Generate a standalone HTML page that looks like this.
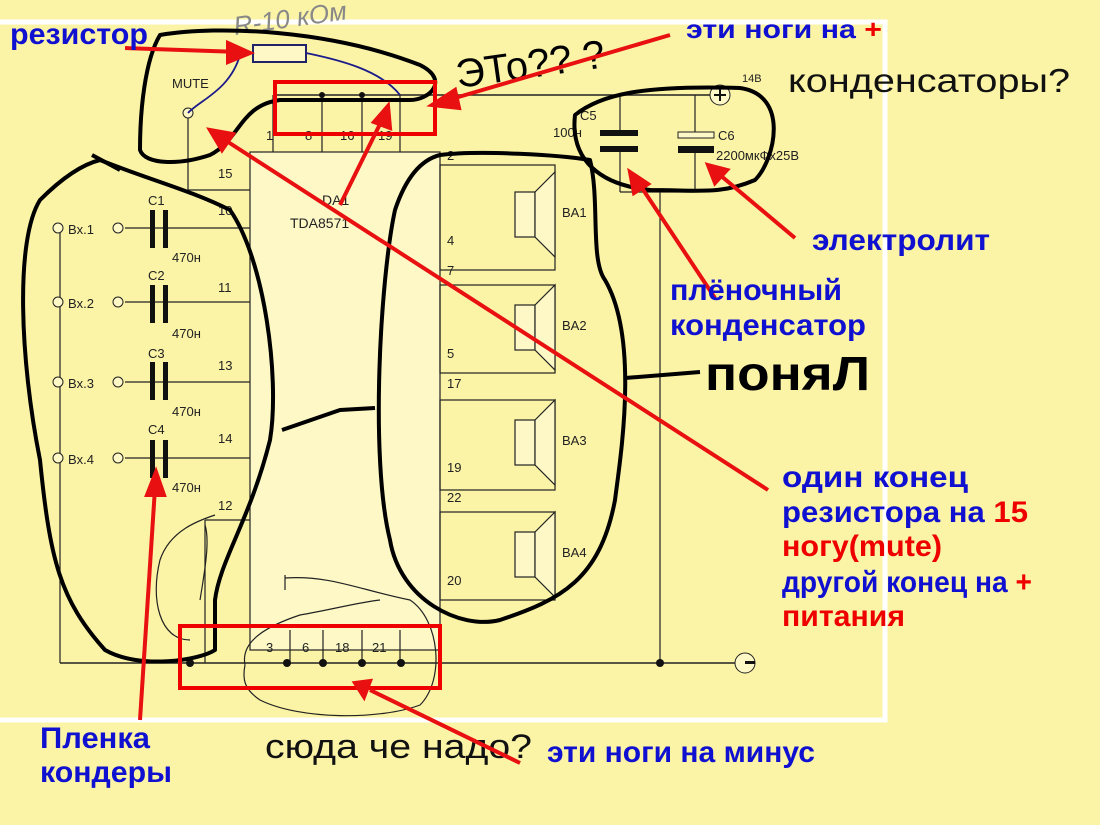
<!DOCTYPE html>
<html><head><meta charset="utf-8"><style>
html,body{margin:0;padding:0;background:#fbf3a6;}
svg{display:block}
</style></head><body>
<svg width="1100" height="825" viewBox="0 0 1100 825" xmlns="http://www.w3.org/2000/svg" font-family="Liberation Sans, sans-serif">
<rect width="1100" height="825" fill="#fbf3a6"/>
<polyline points="0,22 885,22 885,720 0,720" fill="none" stroke="#ffffff" stroke-width="5"/>
<rect x="250" y="152" width="190" height="498" fill="#fdf8c6" stroke="#222" stroke-width="1.2"/>
<text x="322" y="205" font-size="14" fill="#222">DA1</text>
<text x="290" y="228" font-size="14" fill="#222">TDA8571</text>
<g stroke="#222" stroke-width="1.2" fill="none">
<line x1="273" y1="95" x2="720" y2="95" stroke-width="1.5"/>
<line x1="273" y1="95" x2="273" y2="152"/><line x1="322" y1="95" x2="322" y2="152"/>
<line x1="362" y1="95" x2="362" y2="152"/><line x1="400" y1="95" x2="400" y2="152"/>
<line x1="188" y1="118" x2="188" y2="190"/><line x1="188" y1="190" x2="250" y2="190"/>
<line x1="60" y1="228" x2="60" y2="663"/>
<line x1="60" y1="663" x2="740" y2="663" stroke-width="1.5"/>
<line x1="125" y1="228" x2="250" y2="228"/><line x1="125" y1="302" x2="250" y2="302"/>
<line x1="125" y1="382" x2="250" y2="382"/><line x1="125" y1="458" x2="250" y2="458"/>
<line x1="205" y1="520" x2="250" y2="520"/><line x1="205" y1="520" x2="205" y2="663"/>
<line x1="290" y1="630" x2="290" y2="663"/><line x1="323" y1="630" x2="323" y2="663"/>
<line x1="362" y1="630" x2="362" y2="663"/><line x1="400" y1="630" x2="400" y2="663"/>
<line x1="440" y1="636" x2="440" y2="663"/>
<rect x="440" y="165" width="115" height="105"/>
<rect x="440" y="285" width="115" height="88"/>
<rect x="440" y="400" width="115" height="90"/>
<rect x="440" y="512" width="115" height="88"/>
<line x1="660" y1="190" x2="660" y2="663"/>
<line x1="620" y1="95" x2="620" y2="130"/><line x1="620" y1="152" x2="620" y2="192"/>
<line x1="695" y1="95" x2="695" y2="132"/><line x1="695" y1="152" x2="695" y2="192"/>
<line x1="620" y1="192" x2="695" y2="192"/>
</g>
<g fill="#fdf8c6" stroke="#222" stroke-width="1.2">
<rect x="515" y="192" width="20" height="45"/><polygon points="535,192 555,172 555,257 535,237"/>
<rect x="515" y="305" width="20" height="45"/><polygon points="535,305 555,285 555,370 535,350"/>
<rect x="515" y="420" width="20" height="45"/><polygon points="535,420 555,400 555,485 535,465"/>
<rect x="515" y="532" width="20" height="45"/><polygon points="535,532 555,512 555,597 535,577"/>
</g>
<g font-size="13" fill="#222">
<text x="562" y="217">BA1</text><text x="562" y="330">BA2</text><text x="562" y="445">BA3</text><text x="562" y="557">BA4</text>
<text x="447" y="160">2</text><text x="447" y="245">4</text><text x="447" y="275">7</text><text x="447" y="358">5</text>
<text x="447" y="388">17</text><text x="447" y="472">19</text><text x="447" y="502">22</text><text x="447" y="585">20</text>
<text x="266" y="140">1</text><text x="305" y="140">8</text><text x="340" y="140">16</text><text x="378" y="140">19</text>
<text x="218" y="178">15</text><text x="218" y="215">10</text><text x="218" y="292">11</text><text x="218" y="370">13</text>
<text x="218" y="443">14</text><text x="218" y="510">12</text>
<text x="266" y="652">3</text><text x="302" y="652">6</text><text x="335" y="652">18</text><text x="372" y="652">21</text>
<text x="172" y="88">MUTE</text>
<text x="68" y="234">Bx.1</text><text x="68" y="308">Bx.2</text><text x="68" y="388">Bx.3</text><text x="68" y="464">Bx.4</text>
<text x="148" y="205">C1</text><text x="148" y="280">C2</text><text x="148" y="358">C3</text><text x="148" y="434">C4</text>
<text x="172" y="262">470н</text><text x="172" y="338">470н</text><text x="172" y="416">470н</text><text x="172" y="492">470н</text>
<text x="580" y="120">C5</text><text x="553" y="137">100н</text><text x="718" y="140">C6</text><text x="716" y="160">2200мкФх25В</text>
<text x="742" y="82" font-size="11">14В</text>
</g>
<g fill="#fdf8c6" stroke="#222" stroke-width="1">
<circle cx="58" cy="228" r="5"/><circle cx="118" cy="228" r="5"/>
<circle cx="58" cy="302" r="5"/><circle cx="118" cy="302" r="5"/>
<circle cx="58" cy="382" r="5"/><circle cx="118" cy="382" r="5"/>
<circle cx="58" cy="458" r="5"/><circle cx="118" cy="458" r="5"/>
<circle cx="188" cy="113" r="5"/>
<circle cx="720" cy="95" r="10"/><circle cx="745" cy="663" r="10"/>
</g>
<g fill="#111">
<rect x="150" y="210" width="5" height="38"/><rect x="163" y="210" width="5" height="38"/>
<rect x="150" y="285" width="5" height="38"/><rect x="163" y="285" width="5" height="38"/>
<rect x="150" y="362" width="5" height="38"/><rect x="163" y="362" width="5" height="38"/>
<rect x="150" y="440" width="5" height="38"/><rect x="163" y="440" width="5" height="38"/>
<rect x="600" y="130" width="38" height="6"/><rect x="600" y="146" width="38" height="6"/>
<rect x="678" y="146" width="36" height="7"/>
<rect x="745" y="661" width="10" height="3"/><rect x="714" y="94" width="12" height="2"/><rect x="719" y="89" width="2" height="12"/>
<circle cx="190" cy="663" r="4"/><circle cx="287" cy="663" r="4"/><circle cx="323" cy="663" r="4"/>
<circle cx="362" cy="663" r="4"/><circle cx="401" cy="663" r="4"/><circle cx="660" cy="663" r="4"/>
<circle cx="322" cy="95" r="3"/><circle cx="362" cy="95" r="3"/>
</g>
<rect x="678" y="132" width="36" height="6" fill="#fdf8c6" stroke="#222"/>
<rect x="253" y="45" width="53" height="17" fill="#fdf8c6" stroke="#22226a" stroke-width="2"/>
<path d="M188,113 C200,100 230,90 240,55 L253,53 M306,53 C340,60 380,70 400,95" fill="none" stroke="#1b1b8a" stroke-width="1.8"/>
<text x="235" y="35" font-size="26" fill="#888" font-style="italic" transform="rotate(-8 235 35)">R-10 кОм</text>
<g fill="none" stroke="#000" stroke-width="4" stroke-linejoin="round">
<path d="M160,35 C220,25 330,30 420,65 C450,80 430,100 410,100 L280,100 C240,105 240,140 210,155 C180,165 145,165 140,150 C140,110 145,60 160,35 Z"/>
<path d="M100,160 C150,180 190,190 230,210 C265,260 280,380 270,440 C250,520 220,560 215,600 L215,650 C200,660 140,670 105,650 C60,600 50,560 40,460 C20,360 15,240 40,200 C60,180 80,165 100,160 Z"/>
<path d="M92,155 L120,170"/>
<path d="M282,430 L340,410 L375,408"/>
<path d="M440,155 C480,150 560,155 590,160 C600,200 590,260 605,280 C640,340 620,460 615,500 C600,580 560,600 500,620 C460,630 400,600 390,540 C370,460 380,280 395,210 C405,180 420,160 440,155 Z"/>
<path d="M575,115 C600,95 640,85 740,88 C790,95 775,160 755,180 C720,195 700,190 650,190 C600,185 570,160 575,115 Z"/>
<path d="M625,378 L700,372"/>
</g>
<g fill="none" stroke="#222" stroke-width="1.2">
<path d="M245,665 C240,640 270,625 300,615 C330,610 360,602 380,600 M285,575 L285,590 M285,578 C330,575 360,590 410,600 C440,620 445,680 420,705 C380,720 300,720 260,700 C245,690 242,680 245,665"/>
<path d="M215,515 C200,520 170,530 160,560 C150,600 160,640 190,640 M205,525 C210,540 205,570 200,600"/>
</g>
<text x="458" y="88" font-size="40" fill="#000" transform="rotate(-8 458 88)" textLength="150" lengthAdjust="spacingAndGlyphs">ЭТо?? ?</text>
<text x="705" y="390" font-size="48" fill="#000" font-weight="bold" textLength="165" lengthAdjust="spacingAndGlyphs">поняЛ</text>
<text x="788" y="92" font-size="33" fill="#111" textLength="282" lengthAdjust="spacingAndGlyphs">конденсаторы?</text>
<text x="265" y="758" font-size="34" fill="#111" textLength="267" lengthAdjust="spacingAndGlyphs">сюда че надо?</text>
<g fill="none" stroke="#e00" stroke-width="4">
<rect x="275" y="82" width="160" height="52"/>
<rect x="180" y="626" width="260" height="62"/>
</g>
<g stroke="#e81010" stroke-width="4" fill="#e81010">
<line x1="125" y1="48" x2="240" y2="52"/><polygon points="250,53 228,43 228,62"/>
<line x1="670" y1="35" x2="455" y2="98"/><polygon points="432,105 455,90 459,108"/>
<line x1="340" y1="205" x2="382" y2="120"/><polygon points="388,106 374,122 390,128"/>
<line x1="768" y1="490" x2="225" y2="140"/><polygon points="210,130 233,134 222,150"/>
<line x1="715" y1="298" x2="640" y2="185"/><polygon points="630,172 648,184 634,193"/>
<line x1="795" y1="238" x2="720" y2="175"/><polygon points="708,165 727,170 715,183"/>
<line x1="140" y1="720" x2="155" y2="488"/><polygon points="156,472 147,495 164,495"/>
<line x1="520" y1="763" x2="370" y2="690"/><polygon points="355,683 370,681 364,697"/>
</g>
<g font-weight="bold" font-size="30" fill="#1010d0">
<text x="10" y="44" textLength="138" lengthAdjust="spacingAndGlyphs">резистор</text>
<text x="686" y="38" font-size="26" textLength="196" lengthAdjust="spacingAndGlyphs">эти ноги на <tspan fill="#e00">+</tspan></text>
<text x="812" y="250" textLength="178" lengthAdjust="spacingAndGlyphs">электролит</text>
<text x="670" y="300" textLength="172" lengthAdjust="spacingAndGlyphs">плёночный</text>
<text x="670" y="335" textLength="196" lengthAdjust="spacingAndGlyphs">конденсатор</text>
<text x="782" y="487" textLength="186" lengthAdjust="spacingAndGlyphs">один конец</text>
<text x="782" y="522" textLength="246" lengthAdjust="spacingAndGlyphs">резистора на <tspan fill="#e00">15</tspan></text>
<text x="782" y="556" fill="#e00" textLength="160" lengthAdjust="spacingAndGlyphs">ногу(mute)</text>
<text x="782" y="592" textLength="250" lengthAdjust="spacingAndGlyphs">другой конец на <tspan fill="#e00">+</tspan></text>
<text x="782" y="626" fill="#e00" textLength="123" lengthAdjust="spacingAndGlyphs">питания</text>
<text x="40" y="748" textLength="110" lengthAdjust="spacingAndGlyphs">Пленка</text>
<text x="40" y="782" textLength="132" lengthAdjust="spacingAndGlyphs">кондеры</text>
<text x="547" y="762" textLength="268" lengthAdjust="spacingAndGlyphs">эти ноги на минус</text>
</g>
</svg>
</body></html>
